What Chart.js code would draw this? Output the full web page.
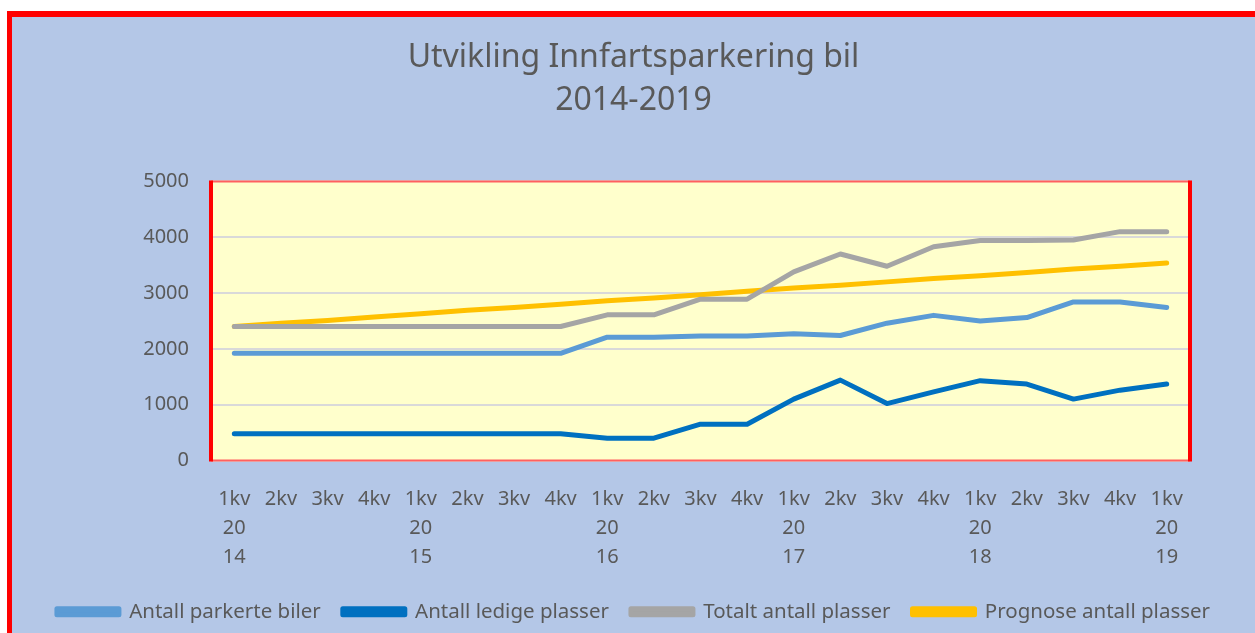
<!DOCTYPE html>
<html>
<head>
<meta charset="utf-8">
<script src="https://cdn.jsdelivr.net/npm/chart.js@4.4.1/dist/chart.umd.min.js"></script>
<style>
  html, body { margin: 0; padding: 0; background: #fff; overflow: hidden; }
  #frame {
    position: absolute; left: 7px; top: 11px;
    width: 1260px; height: 640px;
    border-left: 5px solid #ff0000; border-top: 6px solid #ff0000;
    background: #b4c7e7;
  }
  #wrap { position: absolute; left: 12px; top: 17px; width: 1243px; height: 616px; }
</style>
</head>
<body>
<div id="frame"></div>
<div id="wrap"><canvas id="parkChart"></canvas></div>
<script>
// Quarter labels (kvartal + år split over lines)
const quarters = [
  ['1kv', '20', '14'], '2kv', '3kv', '4kv',
  ['1kv', '20', '15'], '2kv', '3kv', '4kv',
  ['1kv', '20', '16'], '2kv', '3kv', '4kv',
  ['1kv', '20', '17'], '2kv', '3kv', '4kv',
  ['1kv', '20', '18'], '2kv', '3kv', '4kv',
  ['1kv', '20', '19']
];

// Values
const parkerteBiler = [1920, 1920, 1920, 1920, 1920, 1920, 1920, 1920, 2210, 2210, 2230,
  2230, 2270, 2240, 2460, 2600, 2500, 2560, 2840, 2840, 2740];
const ledigePlasser = [480, 480, 480, 480, 480, 480, 480, 480, 400, 400, 650,
  650, 1100, 1440, 1020, 1230, 1430, 1370, 1100, 1260, 1370];
const totaltPlasser = [2400, 2400, 2400, 2400, 2400, 2400, 2400, 2400, 2610, 2610, 2890,
  2890, 3380, 3700, 3480, 3830, 3940, 3940, 3950, 4100, 4100];
const prognosePlasser = [2400, 2460, 2510, 2570, 2630, 2690, 2740, 2800, 2860, 2910, 2970,
  3030, 3090, 3140, 3200, 3260, 3310, 3370, 3430, 3480, 3540];

const yTicks = [0, 1000, 2000, 3000, 4000, 5000];

const textColor = '#595959';
const fontFamily = '"Noto Sans", "Open Sans", sans-serif';

// yellow plot area with red frame
const plotArea = {
  id: 'plotArea',
  beforeDraw(chart) {
    const { ctx, chartArea: a } = chart;
    ctx.save();
    ctx.fillStyle = '#ffffcc';
    ctx.fillRect(a.left, a.top, a.right - a.left, a.bottom - a.top);
    ctx.restore();
  },
  afterDraw(chart) {
    const { ctx, chartArea: a } = chart;
    ctx.save();
    ctx.strokeStyle = '#ff6060';
    ctx.lineWidth = 2;
    ctx.beginPath();
    ctx.moveTo(a.left, a.top); ctx.lineTo(a.right, a.top);
    ctx.moveTo(a.left, a.bottom); ctx.lineTo(a.right, a.bottom);
    ctx.stroke();
    ctx.strokeStyle = '#ff0000';
    ctx.lineWidth = 4;
    ctx.beginPath();
    ctx.moveTo(a.left, a.top - 1); ctx.lineTo(a.left, a.bottom + 1);
    ctx.moveTo(a.right, a.top - 1); ctx.lineTo(a.right, a.bottom + 1);
    ctx.stroke();
    ctx.restore();
  }
};

const line = (label, data, color) => ({
  label, data,
  borderColor: color,
  backgroundColor: color,
  borderWidth: 5,
  borderCapStyle: 'round',
  borderJoinStyle: 'round',
  pointRadius: 0,
  tension: 0
});

new Chart(document.getElementById('parkChart'), {
  type: 'line',
  data: {
    labels: quarters,
    datasets: [
      line('Antall parkerte biler', parkerteBiler, '#5b9bd5'),
      line('Antall ledige plasser', ledigePlasser, '#0070c0'),
      line('Totalt antall plasser', totaltPlasser, '#a5a5a5'),
      line('Prognose antall plasser', prognosePlasser, '#ffc000')
    ]
  },
  options: {
    responsive: true,
    maintainAspectRatio: false,
    animation: false,
    layout: { padding: { top: 0, bottom: 1 } },
    plugins: {
      title: {
        display: true,
        text: ['Utvikling Innfartsparkering bil', '2014-2019'],
        color: textColor,
        font: { family: fontFamily, size: 32, weight: 'normal', lineHeight: 1.35 },
        padding: { top: 19, bottom: 59 }
      },
      legend: {
        position: 'bottom',
        labels: {
          color: textColor,
          font: { family: fontFamily, size: 20.5 },
          boxWidth: 62,
          boxHeight: 6,
          padding: 22
        }
      },
      tooltip: { enabled: false }
    },
    scales: {
      x: {
        offset: true,
        grid: { display: false },
        border: { display: false },
        ticks: {
          color: textColor,
          font: { family: fontFamily, size: 20, lineHeight: 1.45 },
          maxRotation: 0,
          autoSkip: false,
          padding: 16
        },
        afterFit: s => { s.height = 119; }
      },
      y: {
        min: 0,
        max: 5000,
        afterBuildTicks: s => { s.ticks = yTicks.map(v => ({ value: v })); },
        grid: { color: '#d9d9d9', lineWidth: 2, drawTicks: false },
        border: { display: false },
        ticks: {
          color: textColor,
          font: { family: fontFamily, size: 20 },
          padding: 22,
          callback: v => String(v)
        },
        afterFit: s => { s.width = 199; }
      },
      yRight: {
        type: 'linear',
        position: 'right',
        grid: { display: false },
        border: { display: false },
        ticks: { display: false },
        afterFit: s => { s.width = 65; }
      }
    }
  },
  plugins: [plotArea]
});
</script>
</body>
</html>
